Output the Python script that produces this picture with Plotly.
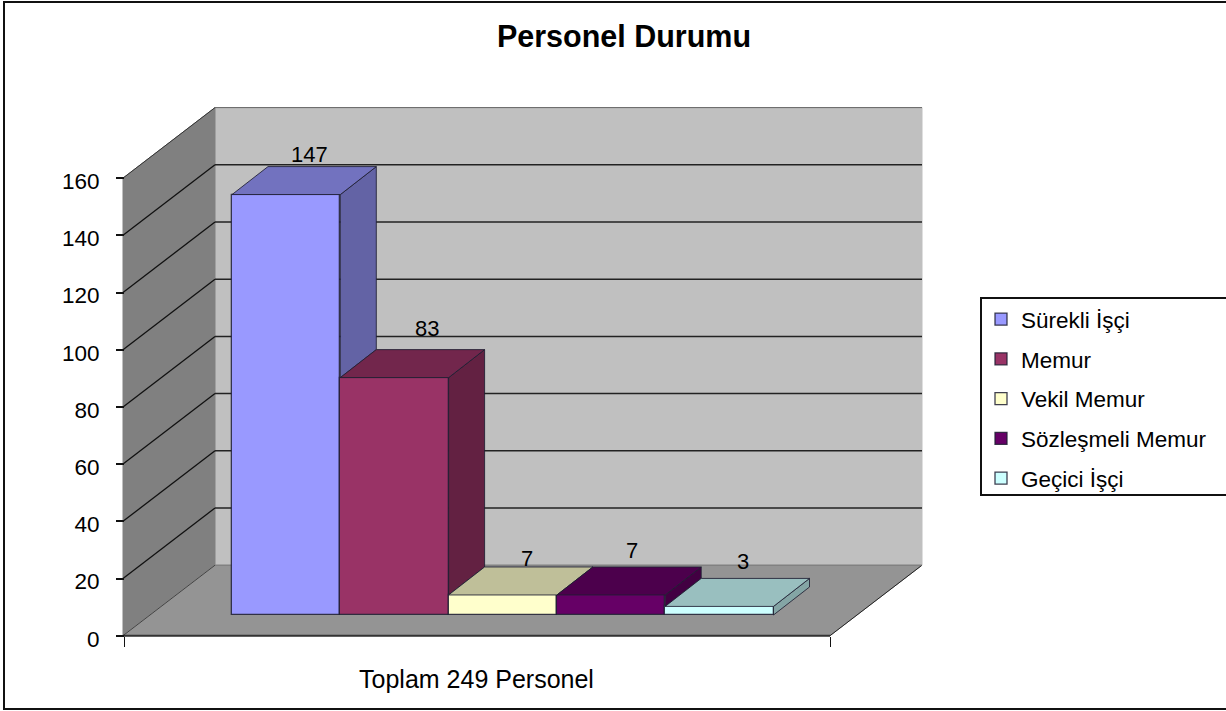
import plotly.graph_objects as go

title = "Personel Durumu"
category_label = "Toplam 249 Personel"
series_names = ["Sürekli İşçi", "Memur", "Vekil Memur", "Sözleşmeli Memur", "Geçici İşçi"]
series_values = [147, 83, 7, 7, 3]
series_colors = ["#9999FF", "#993366", "#FFFFCC", "#660066", "#CCFFFF"]
y_ticks = [0, 20, 40, 60, 80, 100, 120, 140, 160]

W, H = 1226, 711
FONT = "Liberation Sans, Arial, sans-serif"

# Axis scales: one x unit is one bar slot, y unit is a value.
PX_PER_SLOT = 108.3
PX_PER_VALUE = 2.86
Y0_PX = 635.7
X_AT = lambda px: 0.5 + (px - 232) / PX_PER_SLOT
Y_AT = lambda py: (Y0_PX - py) / PX_PER_VALUE
XL, XR = X_AT(123), X_AT(830)
WALL_DX, WALL_DY = 92 / PX_PER_SLOT, 70.5 / PX_PER_VALUE
BAR_DX, BAR_DY = 36 / PX_PER_SLOT, 28 / PX_PER_VALUE
BAR_BASE = 20.7 / PX_PER_VALUE
YMAX = y_ticks[-1]


def shade(hex_color, f):
    r, g, b = (int(hex_color[i:i + 2], 16) for i in (1, 3, 5))
    return f"rgb({int(r * f)},{int(g * f)},{int(b * f)})"


fig = go.Figure()
EDGE = "rgba(30,30,50,0.85)"

for i, (name, val, col) in enumerate(zip(series_names, series_values, series_colors)):
    fig.add_trace(go.Bar(
        x=[i + 1], y=[val], base=BAR_BASE, width=1, name=name,
        legendgroup=name, marker=dict(color=col, line=dict(color=EDGE, width=1.3)),
        hoverinfo="name+y",
    ))

for i, (val, col) in enumerate(zip(series_values, series_colors)):
    left, right = i + 0.5, i + 1.5
    top = BAR_BASE + val
    nxt = BAR_BASE + (series_values[i + 1] if i + 1 < len(series_values) else 0)
    # side face, cut off where the next bar hides it
    fig.add_trace(go.Scatter(
        x=[right, right + BAR_DX, right + BAR_DX, right, right],
        y=[top, top + BAR_DY, nxt + BAR_DY, nxt, top],
        mode="lines", fill="toself", fillcolor=shade(col, 0.65),
        line=dict(color=EDGE, width=1), showlegend=False, hoverinfo="skip",
    ))
    # top face
    fig.add_trace(go.Scatter(
        x=[left, right, right + BAR_DX, left + BAR_DX, left],
        y=[top, top, top + BAR_DY, top + BAR_DY, top],
        mode="lines", fill="toself", fillcolor=shade(col, 0.75),
        line=dict(color=EDGE, width=1), showlegend=False, hoverinfo="skip",
    ))


def poly(pts, fill, line=None, width=1):
    path = "M" + " L".join(f"{x},{y}" for x, y in pts) + " Z"
    return dict(type="path", path=path, xref="x", yref="y", layer="below",
                fillcolor=fill, line=dict(color=line or fill, width=width))


def seg(x0, y0, x1, y1, color="#1a1a1a", width=1):
    return dict(type="line", x0=x0, y0=y0, x1=x1, y1=y1, xref="x", yref="y",
                layer="below", line=dict(color=color, width=width))


XBL, XBR = XL + WALL_DX, XR + WALL_DX
shapes = [
    poly([(XBL, WALL_DY), (XBR, WALL_DY), (XBR, YMAX + WALL_DY), (XBL, YMAX + WALL_DY)], "#C0C0C0"),
    poly([(XL, 0), (XBL, WALL_DY), (XBL, YMAX + WALL_DY), (XL, YMAX)], "#808080"),
    poly([(XL, 0), (XR, 0), (XBR, WALL_DY), (XBL, WALL_DY)], "#949494"),
]
for v in y_ticks[1:-1]:
    shapes.append(seg(XL, v, XBL, v + WALL_DY, "#111111", 1.3))
    shapes.append(seg(XBL, v + WALL_DY, XBR, v + WALL_DY, "#222222", 1.5))
shapes += [
    seg(XL, YMAX, XBL, YMAX + WALL_DY, "#333333"),
    seg(XBL, YMAX + WALL_DY, XBR, YMAX + WALL_DY, "#666666"),
    seg(XL, 0, XBL, WALL_DY, "#444444"),
    seg(XL, 0, XR, 0, "#333333", 2),
    seg(XR, 0, XBR, WALL_DY, "#222222"),
    seg(XBL, WALL_DY, XBR, WALL_DY, "#777777"),
]
# chart frame and legend box (both run off the right edge of the page)
px, py = (lambda v: v / W), (lambda v: 1 - v / H)
shapes.append(dict(type="path", xref="paper", yref="paper", layer="above",
                   path=f"M{px(1232)},{py(2)} L{px(4)},{py(2)} L{px(4)},{py(709)} L{px(1232)},{py(709)}",
                   line=dict(color="#111111", width=2)))
shapes.append(dict(type="path", xref="paper", yref="paper", layer="above",
                   path=f"M{px(1232)},{py(298)} L{px(981)},{py(298)} L{px(981)},{py(495)} L{px(1232)},{py(495)}",
                   line=dict(color="#111111", width=2)))

# value labels: placed from the data, nudged as in the source
nudges = [(5, 12), (15, 21), (6, 8), (3, 16), (6, 17)]
annotations = []
for i, (val, (nx, ny)) in enumerate(zip(series_values, nudges)):
    annotations.append(dict(
        x=i + 1 + BAR_DX / 2, y=BAR_BASE + val + BAR_DY, text=str(val), showarrow=False,
        xanchor="center", yanchor="middle", xshift=nx, yshift=ny,
        font=dict(family=FONT, size=22, color="#000000"),
    ))

fig.update_layout(
    width=W, height=H, autosize=False,
    margin=dict(l=0, r=0, t=0, b=0),
    paper_bgcolor="white", plot_bgcolor="white",
    barmode="overlay", bargap=0,
    font=dict(family=FONT, size=20, color="#000000"),
    title=dict(text=f"<b>{title}</b>", x=624 / W, xanchor="center", y=1 - 36 / H, yanchor="middle",
               yref="container", font=dict(family=FONT, size=30.5, color="#000000")),
    legend=dict(x=px(981), y=py(298), xanchor="left", yanchor="top", bgcolor="rgba(0,0,0,0)",
                borderwidth=0, tracegroupgap=7.5, itemclick=False, itemdoubleclick=False,
                font=dict(family=FONT, size=22.5, color="#000000")),
    xaxis=dict(range=[X_AT(0), X_AT(W)], anchor="free", position=1 - Y0_PX / H, side="bottom",
               showgrid=False, zeroline=False, showline=False,
               tickmode="array", tickvals=[(XL + XR) / 2], ticktext=[category_label],
               ticks="", ticklabelstandoff=26,
               minor=dict(tickmode="array", tickvals=[XL + 0.01, XR], ticks="outside", ticklen=10,
                          tickcolor="#111111", tickwidth=1, showgrid=False),
               tickfont=dict(family=FONT, size=25, color="#000000")),
    yaxis=dict(range=[Y_AT(H), Y_AT(0)], anchor="free", position=124 / W, side="left",
               showgrid=False, zeroline=False, showline=False,
               tickmode="array", tickvals=y_ticks, ticks="outside", ticklen=8, tickcolor="#111111",
               tickwidth=2, ticklabelstandoff=12, ticklabelshift=3,
               tickfont=dict(family=FONT, size=22.5, color="#000000")),
    shapes=shapes, annotations=annotations,
)
fig.write_html("out.html", config=dict(displayModeBar=False),
               post_script="document.body.style.margin='0';document.documentElement.style.overflow='hidden';")
